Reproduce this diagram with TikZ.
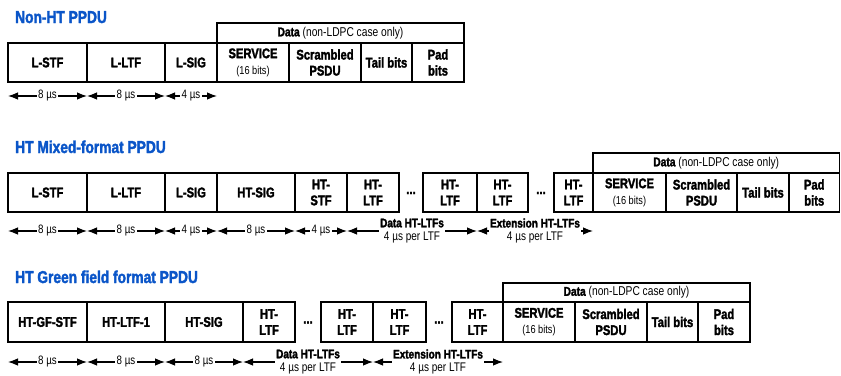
\documentclass[tikz,border=0pt]{standalone}
\usepackage{fontspec}
\setmainfont{Liberation Sans}[FakeStretch=0.8, BoldFeatures={FakeBold=2}]
\usetikzlibrary{arrows.meta}
\definecolor{ttlblue}{RGB}{10,85,200}
\tikzset{
  fld/.style={draw, line width=1.5pt, minimum height=39, inner sep=0, outer sep=0, align=center, font=\fontsize{14}{16}\selectfont\bfseries},
  hdr/.style={draw, line width=1.5pt, minimum height=20, inner sep=0, outer sep=0, font=\fontsize{12.8}{14}\selectfont},
  ttl/.style={anchor=base west, inner sep=0, text=ttlblue, font=\fontsize{17.2}{19}\selectfont\bfseries},
  dim/.style={arrows={Latex[length=10pt,width=7.5pt]-Latex[length=10pt,width=7.5pt]}, line width=1.1pt},
  lbl/.style={fill=white, inner sep=1.5pt, font=\fontsize{12.2}{14}\selectfont},
  lbltwo/.style={fill=white, inner sep=1.5pt, align=center, font=\fontsize{12.5}{13.5}\selectfont},
  dots/.style={inner sep=0, font=\fontsize{14}{16}\selectfont\bfseries},
}
\newcommand{\bitsnote}{{\mdseries\fontsize{11.5}{13}\selectfont (16 bits)}}
\begin{document}
\begin{tikzpicture}[x=1pt, y=-1pt]
      \useasboundingbox (0, 0) rectangle (841, 375);

      % Non-HT PPDU
      \node[ttl] (nttl) at (15, 23) {Non-HT PPDU};
      \node[hdr, minimum width=247] (ndata) at (340.5, 33) {\textbf{Data} (non-LDPC case only)};
      \node[fld, minimum width=79] (nstf) at (47.5, 62.5) {L-STF};
      \node[fld, minimum width=78] (nltf) at (126, 62.5) {L-LTF};
      \node[fld, minimum width=52] (nsig) at (191, 62.5) {L-SIG};
      \node[fld, minimum width=72] (nsrv) at (253, 62.5) {SERVICE\\\bitsnote};
      \node[fld, minimum width=72] (npsdu) at (325, 62.5) {Scrambled\\PSDU};
      \node[fld, minimum width=51] (ntail) at (386.5, 62.5) {Tail bits};
      \node[fld, minimum width=52] (npad) at (438, 62.5) {Pad\\bits};
      \draw[dim]([yshift=-14]nstf.south west) -- node[lbl]{8 µs} ([yshift=-14]nstf.south east);
      \draw[dim]([yshift=-14]nltf.south west) -- node[lbl]{8 µs} ([yshift=-14]nltf.south east);
      \draw[dim]([yshift=-14]nsig.south west) -- node[lbl]{4 µs} ([yshift=-14]nsig.south east);

      % HT mixed format PPDU
      \node[ttl] (mttl) at (15, 153) {HT Mixed-format PPDU};
      \node[hdr, minimum width=246.5] (mdata) at (716.25, 163) {\textbf{Data} (non-LDPC case only)};
      \node[fld, minimum width=79] (mstf) at (47.5, 192.5) {L-STF};
      \node[fld, minimum width=78] (mltf) at (126, 192.5) {L-LTF};
      \node[fld, minimum width=52] (msig) at (191, 192.5) {L-SIG};
      \node[fld, minimum width=78] (mhtsig) at (256, 192.5) {HT-SIG};
      \node[fld, minimum width=52] (mhtstf) at (321, 192.5) {HT-\\STF};
      \node[fld, minimum width=52] (mltfa) at (373, 192.5) {HT-\\LTF};
      \node[dots] (mdotsa) at (411, 193) {...};
      \node[fld, minimum width=54] (mltfb) at (450, 192.5) {HT-\\LTF};
      \node[fld, minimum width=51] (mltfc) at (502.5, 192.5) {HT-\\LTF};
      \node[dots] (mdotsb) at (541, 193) {...};
      \node[fld, minimum width=39] (mltfd) at (573.5, 192.5) {HT-\\LTF};
      \node[fld, minimum width=73] (msrv) at (629.5, 192.5) {SERVICE\\\bitsnote};
      \node[fld, minimum width=71] (mpsdu) at (701.5, 192.5) {Scrambled\\PSDU};
      \node[fld, minimum width=52] (mtail) at (763, 192.5) {Tail bits};
      \node[fld, minimum width=50.5] (mpad) at (814.25, 192.5) {Pad\\bits};
      \draw[dim]([yshift=-19]mstf.south west) -- node[lbl]{8 µs} ([yshift=-19]mstf.south east);
      \draw[dim]([yshift=-19]mltf.south west) -- node[lbl]{8 µs} ([yshift=-19]mltf.south east);
      \draw[dim]([yshift=-19]msig.south west) -- node[lbl]{4 µs} ([yshift=-19]msig.south east);
      \draw[dim]([yshift=-19]mhtsig.south west) -- node[lbl]{8 µs} ([yshift=-19]mhtsig.south east);
      \draw[dim]([yshift=-19]mhtstf.south west) -- node[lbl]{4 µs} ([yshift=-19]mhtstf.south east);
      \draw[dim]([yshift=-19]mltfa.south west) -- node[lbltwo]{\textbf{Data HT-LTFs}\\4 µs per LTF} ([yshift=-19]mltfb.south east);
      \draw[dim]([yshift=-19]mltfc.south west) -- node[lbltwo]{\textbf{Extension HT-LTFs}\\4 µs per LTF} ([yshift=-19]mltfd.south east);

      % HT green field format PPDU
      \node[ttl] (gttl) at (15, 283) {HT Green field format PPDU};
      \node[hdr, minimum width=247, minimum height=19] (gdata) at (626.5, 292.5) {\textbf{Data} (non-LDPC case only)};
      \node[fld, minimum width=79, minimum height=40] (gstf) at (47.5, 322) {HT-GF-STF};
      \node[fld, minimum width=78, minimum height=40] (gltfone) at (126, 322) {HT-LTF-1};
      \node[fld, minimum width=78, minimum height=40] (gsig) at (204, 322) {HT-SIG};
      \node[fld, minimum width=52, minimum height=40] (gltfa) at (269, 322) {HT-\\LTF};
      \node[dots] (gdotsa) at (308, 322.5) {...};
      \node[fld, minimum width=52, minimum height=40] (gltfb) at (347, 322) {HT-\\LTF};
      \node[fld, minimum width=53, minimum height=40] (gltfc) at (399.5, 322) {HT-\\LTF};
      \node[dots] (gdotsb) at (439, 322.5) {...};
      \node[fld, minimum width=51, minimum height=40] (gltfd) at (477.5, 322) {HT-\\LTF};
      \node[fld, minimum width=72, minimum height=40] (gsrv) at (539, 322) {SERVICE\\\bitsnote};
      \node[fld, minimum width=72, minimum height=40] (gpsdu) at (611, 322) {Scrambled\\PSDU};
      \node[fld, minimum width=51, minimum height=40] (gtail) at (672.5, 322) {Tail bits};
      \node[fld, minimum width=52, minimum height=40] (gpad) at (724, 322) {Pad\\bits};
      \draw[dim]([yshift=-20]gstf.south west) -- node[lbl]{8 µs} ([yshift=-20]gstf.south east);
      \draw[dim]([yshift=-20]gltfone.south west) -- node[lbl]{8 µs} ([yshift=-20]gltfone.south east);
      \draw[dim]([yshift=-20]gsig.south west) -- node[lbl]{8 µs} ([yshift=-20]gsig.south east);
      \draw[dim]([yshift=-20]gltfa.south west) -- node[lbltwo]{\textbf{Data HT-LTFs}\\4 µs per LTF} ([yshift=-20]gltfb.south east);
      \draw[dim]([yshift=-20]gltfc.south west) -- node[lbltwo]{\textbf{Extension HT-LTFs}\\4 µs per LTF} ([yshift=-20]gltfd.south east);
      \end{tikzpicture}
\end{document}
